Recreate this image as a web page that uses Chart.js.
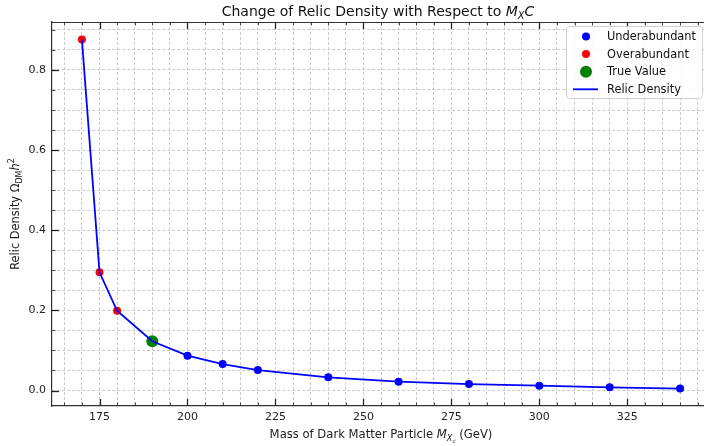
<!DOCTYPE html>
<html>
<head>
<meta charset="utf-8">
<script src="https://cdn.jsdelivr.net/npm/chart.js@4.4.1/dist/chart.umd.min.js"></script>
<style>
  html, body { margin: 0; padding: 0; background: #fff; overflow: hidden; }
  #wrap { width: 704px; height: 446px; overflow: hidden; }
</style>
</head>
<body>
<div id="wrap"><canvas id="relic" width="716" height="446"></canvas></div>
<script>
// mass points (GeV) and relic density read per point
const masses = [170, 175, 180, 190, 200, 210, 220, 240, 260, 280, 300, 320, 340];
const density = [0.876, 0.295, 0.199, 0.123, 0.087, 0.066, 0.051, 0.033, 0.022, 0.016, 0.012, 0.008, 0.005];
const overMasses = [170, 175, 180];
const trueMass = [190];
const underMasses = [200, 210, 220, 240, 260, 280, 300, 320, 340];

const xTicks = [];
for (let v = 165; v <= 345; v += 5) xTicks.push(v);
const yTicks = [];
for (let k = 0; k <= 18; k++) yTicks.push(k * 0.05);

const FONT = 'DejaVu Sans';
const pick = (ms) => ms.map(m => ({ x: m, y: density[masses.indexOf(m)] }));

// draws a run of text pieces (italic, sub/superscript) starting at x
function richWidth(ctx, parts, size) {
    let w = 0;
    parts.forEach(p => {
        ctx.font = (p.it ? 'italic ' : '') + Math.round(size * (p.s || 1) * 10) / 10 + 'px ' + FONT;
        w += ctx.measureText(p.t).width;
    });
    return w;
}
function richText(ctx, parts, x, y, size) {
    parts.forEach(p => {
        ctx.font = (p.it ? 'italic ' : '') + Math.round(size * (p.s || 1) * 10) / 10 + 'px ' + FONT;
        ctx.fillText(p.t, x, y + (p.dy || 0) * size);
        x += ctx.measureText(p.t).width;
    });
}

const decor = {
    id: 'decor',
    afterDraw(chart) {
        const ctx = chart.ctx;
        const a = chart.chartArea;
        const xs = chart.scales.x, ys = chart.scales.y;
        ctx.save();
        // top frame line
        ctx.strokeStyle = '#333';
        ctx.lineWidth = 1.2;
        ctx.beginPath();
        ctx.moveTo(a.left, a.top + 0.5);
        ctx.lineTo(a.right, a.top + 0.5);
        ctx.stroke();

        // inward tick marks
        ctx.strokeStyle = '#222';
        xTicks.forEach(v => {
            const px = Math.round(xs.getPixelForValue(v)) + 0.5;
            const len = v % 25 === 0 ? 7 : 3.5;
            ctx.lineWidth = v % 25 === 0 ? 1.3 : 0.8;
            ctx.beginPath();
            ctx.moveTo(px, a.bottom); ctx.lineTo(px, a.bottom - len);
            ctx.moveTo(px, a.top); ctx.lineTo(px, a.top + len);
            ctx.stroke();
        });
        yTicks.forEach(v => {
            const py = Math.round(ys.getPixelForValue(v)) + 0.5;
            const major = Math.round(v * 100) % 20 === 0;
            ctx.lineWidth = major ? 1.3 : 0.8;
            ctx.beginPath();
            ctx.moveTo(a.left, py); ctx.lineTo(a.left + (major ? 7 : 3.5), py);
            ctx.stroke();
        });

        ctx.fillStyle = '#111';
        ctx.textBaseline = 'alphabetic';
        ctx.textAlign = 'left';

        // title
        const title = [
            { t: 'Change of Relic Density with Respect to ' },
            { t: 'M', it: true },
            { t: 'X', it: true, s: 0.7, dy: 0.2 },
            { t: 'C', it: true }
        ];
        const tw = richWidth(ctx, title, 14);
        richText(ctx, title, 378 - tw / 2, 16, 14);

        // x axis label
        ctx.fillStyle = '#222';
        const xl = [
            { t: 'Mass of Dark Matter Particle ' },
            { t: 'M', it: true },
            { t: 'X', it: true, s: 0.7, dy: 0.25 },
            { t: 'c', it: true, s: 0.5, dy: 0.4 },
            { t: ' (GeV)' }
        ];
        const xw = richWidth(ctx, xl, 11.6);
        richText(ctx, xl, 381 - xw / 2, 438, 11.6);

        // y axis label
        const yl = [
            { t: 'Relic Density \u03A9' },
            { t: 'DM', s: 0.7, dy: 0.25 },
            { t: 'h', it: true },
            { t: '2', s: 0.7, dy: -0.4 }
        ];
        const yw = richWidth(ctx, yl, 11.4);
        ctx.translate(19, (a.top + a.bottom) / 2);
        ctx.rotate(-Math.PI / 2);
        richText(ctx, yl, -yw / 2, 0, 11.4);
        ctx.restore();

        // legend box
        ctx.save();
        const bx = 566.5, by = 26.5, bw = 136, bh = 72;
        ctx.fillStyle = 'rgba(255,255,255,0.85)';
        ctx.strokeStyle = '#d0d0d0';
        ctx.lineWidth = 1;
        ctx.beginPath();
        ctx.roundRect(bx, by, bw, bh, 3);
        ctx.fill();
        ctx.stroke();
        const rows = [
            { label: 'Underabundant', color: 'blue', r: 4 },
            { label: 'Overabundant', color: 'red', r: 4 },
            { label: 'True Value', color: 'green', r: 6 },
            { label: 'Relic Density', color: 'blue', line: true }
        ];
        ctx.font = '11.4px ' + FONT;
        ctx.textBaseline = 'middle';
        rows.forEach((row, i) => {
            const cy = 36.5 + i * 17.6;
            if (row.line) {
                ctx.strokeStyle = row.color;
                ctx.lineWidth = 1.8;
                ctx.beginPath();
                ctx.moveTo(573, cy); ctx.lineTo(598, cy);
                ctx.stroke();
            } else {
                ctx.fillStyle = row.color;
                ctx.beginPath();
                ctx.arc(586, cy, row.r, 0, Math.PI * 2);
                ctx.fill();
            }
            ctx.fillStyle = '#111';
            ctx.fillText(row.label, 607, cy + 0.5);
        });
        ctx.restore();
    }
};

new Chart(document.getElementById('relic'), {
    type: 'scatter',
    data: {
        datasets: [
            {
                label: 'Relic Density',
                type: 'line',
                data: masses.map((m, i) => ({ x: m, y: density[i] })),
                borderColor: 'blue',
                borderWidth: 1.8,
                pointRadius: 0,
                fill: false,
                tension: 0,
                order: 0
            },
            {
                label: 'Underabundant',
                data: pick(underMasses),
                backgroundColor: 'blue',
                borderWidth: 0,
                pointRadius: 4,
                order: 1
            },
            {
                label: 'Overabundant',
                data: pick(overMasses),
                backgroundColor: 'red',
                borderWidth: 0,
                pointRadius: 4,
                order: 1
            },
            {
                label: 'True Value',
                data: pick(trueMass),
                backgroundColor: 'green',
                borderWidth: 0,
                pointRadius: 6,
                order: 1
            }
        ]
    },
    options: {
        responsive: false,
        animation: false,
        layout: { padding: { top: 22, right: 3, left: 0, bottom: 0 } },
        plugins: {
            legend: { display: false },
            title: { display: false },
            tooltip: { enabled: false }
        },
        scales: {
            x: {
                type: 'linear',
                min: 161.5,
                max: 348.5,
                afterBuildTicks: (s) => { s.ticks = xTicks.map(v => ({ value: v })); },
                afterFit: (s) => { s.height = 40; },
                ticks: {
                    autoSkip: false,
                    maxRotation: 0,
                    padding: 5,
                    color: '#222',
                    font: { family: FONT, size: 11 },
                    callback: (v) => (v % 25 === 0 ? String(v) : '')
                },
                grid: { color: '#bdbdbd', lineWidth: 0.8, drawTicks: false },
                border: { color: '#333', width: 1.2, dash: [3, 2] }
            },
            y: {
                type: 'linear',
                min: -0.0386,
                max: 0.9196,
                afterBuildTicks: (s) => { s.ticks = yTicks.map(v => ({ value: v })); },
                afterFit: (s) => { s.width = 52; },
                ticks: {
                    autoSkip: false,
                    padding: 6,
                    color: '#222',
                    font: { family: FONT, size: 11 },
                    callback: (v) => (Math.round(v * 100) % 20 === 0 ? v.toFixed(1) : '')
                },
                grid: { color: '#bdbdbd', lineWidth: 0.8, drawTicks: false },
                border: { color: '#333', width: 1.2, dash: [3, 2] }
            }
        }
    },
    plugins: [decor]
});
</script>
</body>
</html>
